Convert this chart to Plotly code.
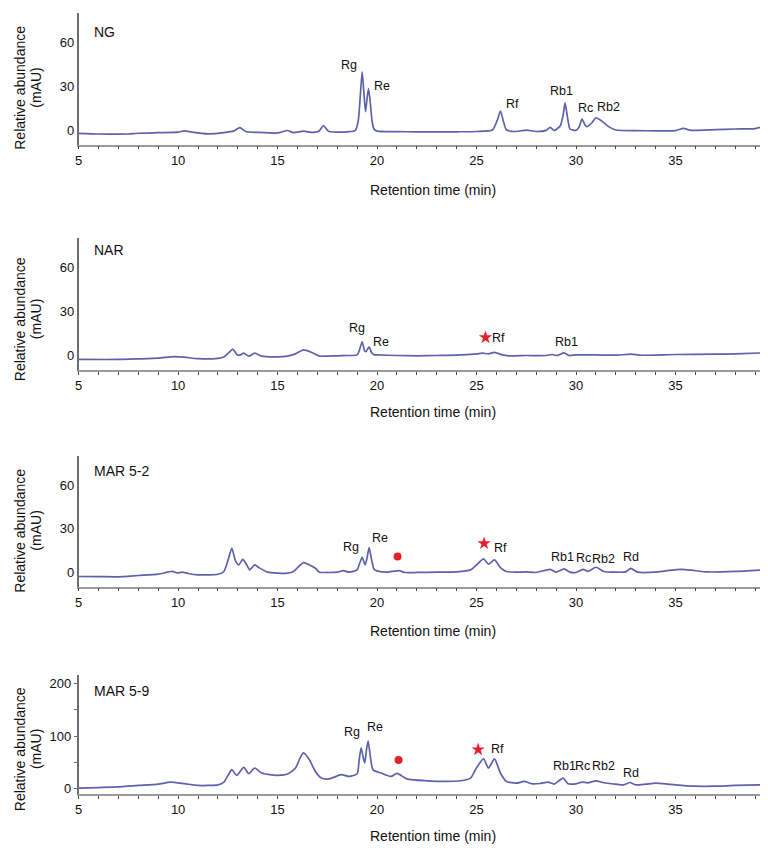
import plotly.graph_objects as go

# ---------------- data ----------------
ng_time = [5, 6, 7, 7.5, 8, 9, 10, 10.3, 10.7, 11.5, 12.3, 12.8, 13.1, 13.4, 14, 15, 15.5, 15.8, 16.3, 16.8,
           17.1, 17.3, 17.55, 18, 18.5, 18.9, 19.05, 19.15, 19.25, 19.33, 19.42, 19.5, 19.57, 19.65, 19.75, 19.85,
           20, 21, 22, 23, 24, 25, 25.8, 26.05, 26.2, 26.35, 26.5, 27, 27.5, 28, 28.5, 28.7, 28.9, 29.2, 29.35,
           29.45, 29.58, 29.7, 30, 30.15, 30.3, 30.45, 30.55, 30.8, 31.0, 31.3, 31.6, 32, 33, 34, 35, 35.4, 35.7,
           36, 37, 38, 39, 39.4]
ng_mau = [-2.3, -2.7, -2.8, -2.7, -2.2, -1.8, -1.4, -0.5, -1.4, -2.6, -1.8, -0.6, 1.6, -1.0, -1.6, -2.0, -0.3, -1.8,
          -0.8, -1.6, -0.5, 3.0, -0.8, -1.4, -1.2, -0.4, 6, 22, 39.8, 27, 12.5, 22, 28.4, 20, 6, 0.5,
          -0.7, -1.1, -1.2, -1.3, -1.2, -1.0, 0, 7, 13, 6, 0.2, -1.0, 0, -1.0, -0.2, 1.8, -0.3, 2.7, 10,
          18.6, 8, 0.7, -0.2, 2, 7.5, 3.5, 2.3, 5, 8.4, 6.1, 2.7, 0, -0.4, -0.5, -0.4, 1.1, 0,
          -0.2, 0.3, 0.7, 1.0, 2.3]

nar_time = [5, 7, 8, 9, 9.8, 10.3, 11, 12, 12.3, 12.55, 12.75, 12.95, 13.1, 13.3, 13.55, 13.85, 14.2, 15, 15.5,
            15.9, 16.3, 16.7, 17.1, 17.5, 18, 18.5, 19.0, 19.12, 19.25, 19.38, 19.45, 19.6, 19.72, 19.85, 20,
            21, 22, 23, 24, 25, 25.3, 25.6, 25.9, 26.3, 26.6, 27.5, 28.5, 28.8, 29.05, 29.4, 29.65, 30, 31, 32,
            32.8, 33.2, 35, 37, 38, 39.4]
nar_mau = [-2.7, -2.7, -2.3, -1.8, -0.7, -1.1, -2.2, -2.0, -1.1, 2, 4.4, 0.7, 0.2, 1.6, -0.4, 1.6, -0.4, -0.9, -0.4,
           1.1, 3.8, 2.2, -0.4, -0.4, -0.2, 0, 0.4, 4, 9.3, 3, 2.7, 6, 2, 0.5, 0.4,
           0, -0.2, 0, 0.2, 1.1, 1.6, 1.1, 2.2, 0.4, -0.2, 0, 0, 0.7, 0, 1.8, 0, 0.4, 0.4, 0.2,
           0.9, 0.2, 0.7, 0.9, 1.1, 1.8]

m52_time = [5, 6, 7, 8, 9, 9.7, 9.95, 10.2, 10.5, 11, 12, 12.3, 12.5, 12.7, 12.88, 13.05, 13.25, 13.45, 13.6,
            13.85, 14.1, 14.5, 15, 15.5, 15.8, 16.3, 16.6, 16.9, 17.1, 17.5, 18, 18.3, 18.6, 19.0, 19.12, 19.25,
            19.4, 19.5, 19.6, 19.72, 19.85, 20, 20.5, 21.1, 21.4, 22, 23, 24, 24.7, 25.0, 25.35, 25.6, 25.9,
            26.2, 26.5, 27, 27.5, 28, 28.7, 29, 29.4, 29.7, 30, 30.35, 30.6, 31, 31.4, 32, 32.5, 32.75, 33.1,
            34, 34.5, 35.3, 35.8, 36.5, 38, 39.4]
m52_mau = [-3.0, -3.1, -3.2, -2.3, -1.4, 0.5, -0.5, 0, -0.9, -1.8, -1.4, 0.5, 8, 16.5, 8, 5, 8.9, 5, 1.6,
           5, 2.8, 0, -0.7, -0.7, 0.5, 6.6, 5, 2.7, 0, -0.2, 0, 1.1, 0, 1.6, 6, 10.3,
           5, 10, 17, 9, 2, 0.9, 0, 1.1, -0.2, -0.2, 0, 0.2, 1.6, 5, 9.2, 5.5, 8.5,
           3.2, 0.5, 0, 0.2, -0.2, 2, 0, 2.3, 0, -0.2, 2, 0.5, 3.4, 0.5, 0, 0.2, 2.7, 0,
           0, 0.9, 2, 1.4, 0.2, 0.5, 1.6]

m59_time = [5, 6, 7, 8, 9, 9.6, 10.3, 11, 12, 12.3, 12.5, 12.7, 12.95, 13.3, 13.55, 13.85, 14.2, 14.6, 15, 15.5,
            15.9, 16.15, 16.3, 16.6, 16.9, 17.2, 17.6, 18.2, 18.6, 19.0, 19.1, 19.2, 19.3, 19.38, 19.47, 19.55,
            19.65, 19.8, 20.2, 20.7, 21.0, 21.5, 22.5, 23.5, 24.2, 24.7, 25.0, 25.35, 25.6, 25.9, 26.2, 26.5,
            27, 27.4, 27.8, 28.2, 28.6, 28.9, 29.35, 29.6, 30.0, 30.3, 30.6, 31.0, 31.4, 32, 32.4, 32.7, 33,
            33.5, 34, 34.5, 35, 36, 37, 38, 39.4]
m59_mau = [1.3, 2.5, 3.8, 6.4, 8.9, 12.7, 10, 6.4, 7.6, 12.7, 25, 36.3, 25.5, 40.8, 28.7, 39.5, 30, 26.8, 25.5, 28,
           39.5, 60, 68, 55, 33, 20.4, 19, 26.8, 23.6, 28.7, 55, 77.7, 60, 49, 75, 90.5,
           65, 36, 30, 23.6, 29.3, 19, 15.3, 14, 15.3, 20.4, 40, 56.7, 39.5, 56.7, 30, 14,
           10.8, 14, 9.6, 10.2, 12.7, 8.9, 20.4, 9.6, 9.6, 12.7, 11.5, 15.3, 11.5, 8.9, 7.6, 12, 7.6,
           8.9, 10.8, 9.6, 7.6, 5, 5, 6.4, 7.6]

sample_names = ["NG", "NAR", "MAR 5-2", "MAR 5-9"]
y_ranges = [[-10, 80], [-10, 80], [-10, 80.5], [-10, 215]]
y_tickvals = [[0, 30, 60], [0, 30, 60], [0, 30, 60], [0, 100, 200]]
name_y = [66.8, 72.3, 70.3, 184.7]
ytitle_lines = ["Relative abundance", "(mAU)"]

# peak labels: (panel, text, time, mAU)
peak_panel = [0, 0, 0, 0, 0, 0, 1, 1, 1, 1, 2, 2, 2, 2, 2, 2, 2, 3, 3, 3, 3, 3, 3, 3]
peak_text = ["Rg", "Re", "Rf", "Rb1", "Rc", "Rb2",
             "Rg", "Re", "Rf", "Rb1",
             "Rg", "Re", "Rf", "Rb1", "Rc", "Rb2", "Rd",
             "Rg", "Re", "Rf", "Rb1", "Rc", "Rb2", "Rd"]
peak_time = [18.6, 20.25, 26.8, 29.25, 30.47, 31.65,
             19.0, 20.2, 26.1, 29.5,
             18.67, 20.17, 26.2, 29.3, 30.38, 31.4, 32.75,
             18.72, 19.88, 26.05, 29.42, 30.33, 31.37, 32.75]
peak_mau = [44.3, 30, 17.7, 26.8, 14.8, 15.9,
            18.9, 8.9, 12.3, 8.9,
            17.6, 23.4, 17, 10.3, 9.6, 9.2, 10.8,
            108, 117, 76.4, 42.7, 42.7, 42.7, 30]

# red markers: star / dot
star_panel = [1, 2, 3]
star_time = [25.45, 25.38, 25.08]
star_mau = [12.3, 19.9, 74.5]
dot_panel = [2, 3]
dot_time = [21.03, 21.08]
dot_mau = [10.8, 54.8]

series_t = [ng_time, nar_time, m52_time, m59_time]
series_y = [ng_mau, nar_mau, m52_mau, m59_mau]

# ---------------- layout geometry (window pixels) ----------------
OFF = 8                      # default page body margin
W, H = 768 - OFF, 850 - OFF  # figure size inside the page
x0_px, x1_px = 75, 763
panel_px = [(13, 145), (239, 371), (457, 588), (677, 796)]  # top, bottom
ytitle_center_px = [88, 320, 532, 751]
ytitle_line_x = [16, 32]
xtitle_px = [190, 413, 632, 838]


def px_x(p):
    return (p - OFF) / W


def px_y(p):
    return 1 - (p - OFF) / H


fig = go.Figure()
LINE = "#5d62ab"
RED = "#e3202b"
FONT = "Liberation Sans, Arial, sans-serif"

layout = dict(width=W, height=H, margin=dict(l=0, r=0, t=0, b=0),
              paper_bgcolor="white", plot_bgcolor="white", showlegend=False,
              font=dict(family=FONT, color="#111", size=13))
annotations = []

for i in range(4):
    ax = "" if i == 0 else str(i + 1)
    top, bot = panel_px[i]
    fig.add_trace(go.Scatter(x=series_t[i], y=series_y[i], mode="lines",
                             line=dict(color=LINE, width=1.7, shape="spline", smoothing=0.6),
                             xaxis="x" + ax, yaxis="y" + ax, hoverinfo="skip"))
    layout["xaxis" + ax] = dict(domain=[px_x(x0_px), px_x(x1_px)], range=[5, 39.4], anchor="y" + ax,
                                tickvals=[5, 10, 15, 20, 25, 30, 35], showgrid=False, zeroline=False,
                                showline=True, linecolor="#9a9a9a", linewidth=1.5,
                                ticks="outside", ticklen=3, tickcolor="#444", tickwidth=1,
                                minor=dict(dtick=1, tick0=5, ticks="outside", ticklen=3, tickcolor="#444"),
                                tickfont=dict(size=13, family=FONT, color="#111"))
    layout["yaxis" + ax] = dict(domain=[px_y(bot), px_y(top)], range=y_ranges[i], anchor="x" + ax,
                                tickvals=y_tickvals[i], showgrid=False, zeroline=False,
                                showline=True, linecolor="#6e6e6e", linewidth=1.5,
                                ticks="", ticklen=3,
                                tickfont=dict(size=13, family=FONT, color="#111"))
    if i == 3:
        layout["yaxis" + ax].update(ticks="outside", tickcolor="#666",
                                    minor=dict(tickvals=[50, 150], ticks="outside", ticklen=3, tickcolor="#666"))
    # sample name
    annotations.append(dict(x=5.65, y=name_y[i], xref="x" + ax, yref="y" + ax, text=sample_names[i],
                            showarrow=False, xanchor="left", yanchor="middle",
                            font=dict(size=14, family=FONT, color="#111")))
    # y title (two rotated lines)
    for line_text, lx in zip(ytitle_lines, ytitle_line_x):
        annotations.append(dict(x=px_x(lx), y=px_y(ytitle_center_px[i]), xref="paper", yref="paper",
                                text=line_text, textangle=-90, showarrow=False,
                                xanchor="center", yanchor="middle",
                                font=dict(size=14, family=FONT, color="#111")))
    # x title
    annotations.append(dict(x=px_x(431), y=px_y(xtitle_px[i]), xref="paper", yref="paper",
                            text="Retention time (min)", showarrow=False,
                            xanchor="center", yanchor="middle",
                            font=dict(size=14, family=FONT, color="#111")))

for p, t, x, y in zip(peak_panel, peak_text, peak_time, peak_mau):
    ax = "" if p == 0 else str(p + 1)
    annotations.append(dict(x=x, y=y, xref="x" + ax, yref="y" + ax, text=t, showarrow=False,
                            xanchor="center", yanchor="middle",
                            font=dict(size=12.5, family=FONT, color="#111")))

for p, x, y in zip(star_panel, star_time, star_mau):
    ax = "" if p == 0 else str(p + 1)
    fig.add_trace(go.Scatter(x=[x], y=[y], mode="markers", xaxis="x" + ax, yaxis="y" + ax,
                             marker=dict(symbol="star", size=10, color=RED), hoverinfo="skip"))
for p, x, y in zip(dot_panel, dot_time, dot_mau):
    ax = "" if p == 0 else str(p + 1)
    fig.add_trace(go.Scatter(x=[x], y=[y], mode="markers", xaxis="x" + ax, yaxis="y" + ax,
                             marker=dict(symbol="circle", size=8, color=RED), hoverinfo="skip"))

layout["annotations"] = annotations
fig.update_layout(**layout)
fig.write_html("out.html")
